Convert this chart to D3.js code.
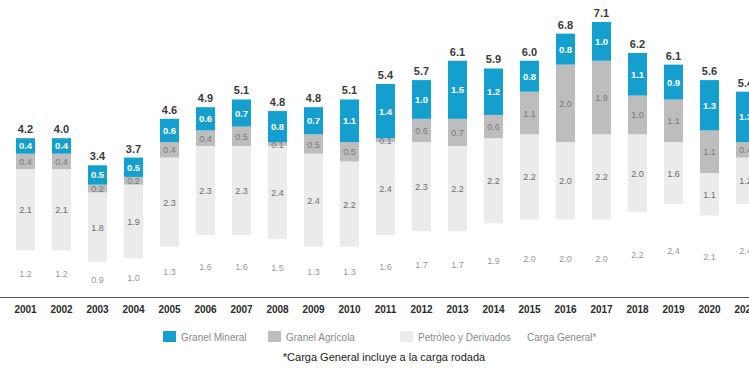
<!DOCTYPE html>
<html>
<head>
<meta charset="utf-8">
<script src="https://cdn.jsdelivr.net/npm/d3@7"></script>
<style>
  html, body { margin: 0; padding: 0; background: #fff; }
  svg { display: block; font-family: "Liberation Sans", Arial, sans-serif; }
</style>
</head>
<body>
<svg id="chart" width="749" height="368"></svg>
<script>
// Movimiento de carga por tipo (millones de toneladas)
const years = ["2001","2002","2003","2004","2005","2006","2007","2008","2009","2010",
               "2011","2012","2013","2014","2015","2016","2017","2018","2019","2020","2021"];
const cargaGeneral   = [1.2,1.2,0.9,1.0,1.3,1.6,1.6,1.5,1.3,1.3,1.6,1.7,1.7,1.9,2.0,2.0,2.0,2.2,2.4,2.1,2.4];
const petroleo       = [2.1,2.1,1.8,1.9,2.3,2.3,2.3,2.4,2.4,2.2,2.4,2.3,2.2,2.2,2.2,2.0,2.2,2.0,1.6,1.1,1.2];
const granelAgricola = [0.4,0.4,0.2,0.2,0.4,0.4,0.5,0.1,0.5,0.5,0.1,0.6,0.7,0.6,1.1,2.0,1.9,1.0,1.1,1.1,0.4];
const granelMineral  = [0.4,0.4,0.5,0.5,0.6,0.6,0.7,0.8,0.7,1.1,1.4,1.0,1.5,1.2,0.8,0.8,1.0,1.1,0.9,1.3,1.3];
const totals         = [4.2,4.0,3.4,3.7,4.6,4.9,5.1,4.8,4.8,5.1,5.4,5.7,6.1,5.9,6.0,6.8,7.1,6.2,6.1,5.6,5.4];

const seriesNames = ["Carga General*","Petróleo y Derivados","Granel Agrícola","Granel Mineral"];
const seriesKeys  = ["cg","pe","ag","mi"];

const colors = { cg: "#ffffff", pe: "#ebebeb", ag: "#bdbdbd", mi: "#159fcf" };
const labelColors = { cg: "#9a9a9a", pe: "#6e6e6e", ag: "#7a7a7a", mi: "#ffffff" };

const rows = years.map((y, i) => ({
  year: y, cg: cargaGeneral[i], pe: petroleo[i], ag: granelAgricola[i], mi: granelMineral[i], total: totals[i]
}));

const svg = d3.select("#chart");
const baseY = 297;

const x = d3.scaleBand().domain(years).range([7.5, 763.5]).paddingInner(0.47).paddingOuter(0.235);
const y = d3.scaleLinear().domain([0, 7.1]).range([baseY, 22]);

const stack = d3.stack().keys(seriesKeys);
const layers = stack(rows);

const fmt = d3.format(".1f");

// stacked segments
const g = svg.append("g");
layers.forEach(layer => {
  const key = layer.key;
  g.selectAll(null).data(layer).enter().append("rect")
    .attr("x", d => x(d.data.year))
    .attr("width", x.bandwidth())
    .attr("y", d => y(d[1]))
    .attr("height", d => y(d[0]) - y(d[1]))
    .attr("fill", colors[key]);

  g.selectAll(null).data(layer).enter().append("text")
    .attr("x", d => x(d.data.year) + x.bandwidth() / 2)
    .attr("y", d => (y(d[0]) + y(d[1])) / 2 + 3.5)
    .attr("text-anchor", "middle")
    .attr("font-size", key === "mi" ? 9.5 : 9)
    .attr("font-weight", key === "mi" ? "bold" : "normal")
    .attr("fill", labelColors[key])
    .text(d => fmt(d.data[key]));
});

// totals above each bar
g.selectAll(null).data(layers[3]).enter().append("text")
  .attr("x", d => x(d.data.year) + x.bandwidth() / 2)
  .attr("y", d => y(d[1]) - 5)
  .attr("text-anchor", "middle")
  .attr("font-size", 11)
  .attr("font-weight", "bold")
  .attr("fill", "#3a3a3a")
  .text(d => fmt(d.data.total));

// baseline axis
const axis = svg.append("g")
  .attr("transform", `translate(0,${baseY})`)
  .call(d3.axisBottom(x).tickSize(0).tickPadding(9));
axis.select(".domain").attr("stroke", "#555").attr("stroke-width", 1.2).attr("d", "M0,0.5H749");
axis.selectAll("text")
  .attr("font-family", "'Liberation Sans', Arial, sans-serif")
  .attr("font-size", 10)
  .attr("font-weight", "bold")
  .attr("fill", "#2a2a2a");

// legend
const legendItems = [
  { key: "mi", name: seriesNames[3], sx: 163, tx: 181 },
  { key: "ag", name: seriesNames[2], sx: 268, tx: 286 },
  { key: "pe", name: seriesNames[1], sx: 400, tx: 418 },
  { key: "cg", name: seriesNames[0], sx: 509, tx: 527 }
];
const leg = svg.append("g");
leg.selectAll("rect").data(legendItems).enter().append("rect")
  .attr("x", d => d.sx).attr("y", 331).attr("width", 13).attr("height", 11)
  .attr("fill", d => colors[d.key]);
leg.selectAll("text").data(legendItems).enter().append("text")
  .attr("x", d => d.tx).attr("y", 341)
  .attr("font-size", 10)
  .attr("fill", "#8a8a8a")
  .text(d => d.name);

svg.append("text")
  .attr("x", 384).attr("y", 361)
  .attr("text-anchor", "middle")
  .attr("font-size", 11)
  .attr("fill", "#222")
  .text("*Carga General incluye a la carga rodada");
</script>
</body>
</html>
